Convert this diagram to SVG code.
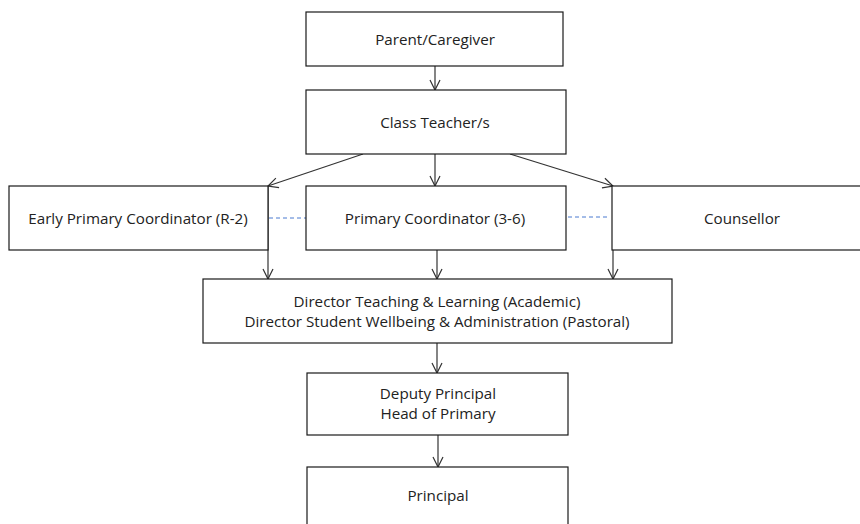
<svg xmlns="http://www.w3.org/2000/svg" width="860" height="524" viewBox="0 0 860 524">
<style>
.box{fill:#fff;stroke:#1a1a1a;stroke-width:1.2}
.t{font-family:"Open Sans","Liberation Sans",Arial,sans-serif;font-size:15.2px;fill:#222;text-anchor:middle}
.c{stroke:#333;stroke-width:1.2;fill:none}
.d{stroke:#4a7bd0;stroke-width:1;stroke-dasharray:4,3;fill:none}
</style>
<defs>
<marker id="ah" viewBox="0 0 12 12" refX="11" refY="6" markerWidth="12" markerHeight="12" markerUnits="userSpaceOnUse" orient="auto">
<path d="M1,1 L11,6 L1,11" fill="none" stroke="#333" stroke-width="1.2"/>
</marker>
</defs>
<rect width="860" height="524" fill="#fff"/>
<g id="connectors">
<line class="c" x1="435" y1="66" x2="435" y2="90" marker-end="url(#ah)"/>
<line class="c" x1="435" y1="154" x2="435" y2="186" marker-end="url(#ah)"/>
<line class="c" x1="363" y1="154" x2="268" y2="186" marker-end="url(#ah)"/>
<line class="c" x1="510" y1="154" x2="613" y2="186" marker-end="url(#ah)"/>
<line class="c" x1="268" y1="186" x2="268" y2="279" marker-end="url(#ah)"/>
<line class="c" x1="437" y1="250" x2="437" y2="279" marker-end="url(#ah)"/>
<line class="c" x1="613" y1="186" x2="613" y2="279" marker-end="url(#ah)"/>
<line class="c" x1="437" y1="343" x2="437" y2="373" marker-end="url(#ah)"/>
<line class="c" x1="438" y1="435" x2="438" y2="467" marker-end="url(#ah)"/>
<line class="d" x1="269" y1="218" x2="306" y2="218"/>
<line class="d" x1="568" y1="217" x2="610" y2="217"/>
</g>
<g id="parent">
<rect class="box" x="306" y="12" width="257" height="54"/>
<text class="t" x="435" y="45">Parent/Caregiver</text>
</g>
<g id="classteacher">
<rect class="box" x="306" y="90" width="260" height="64"/>
<text class="t" x="435" y="128">Class Teacher/s</text>
</g>
<g id="earlyprimary">
<rect class="box" x="9" y="186" width="259" height="64"/>
<text class="t" x="138" y="224">Early Primary Coordinator (R-2)</text>
</g>
<g id="primary">
<rect class="box" x="306" y="186" width="260" height="64"/>
<text class="t" x="435" y="224">Primary Coordinator (3-6)</text>
</g>
<g id="counsellor">
<rect class="box" x="612" y="186" width="262" height="64"/>
<text class="t" x="742" y="224">Counsellor</text>
</g>
<g id="director">
<rect class="box" x="203" y="279" width="469" height="64"/>
<text class="t" x="437" y="307">Director Teaching &amp; Learning (Academic)</text>
<text class="t" x="437" y="327">Director Student Wellbeing &amp; Administration (Pastoral)</text>
</g>
<g id="deputy">
<rect class="box" x="307" y="373" width="261" height="62"/>
<text class="t" x="438" y="399">Deputy Principal</text>
<text class="t" x="438" y="419">Head of Primary</text>
</g>
<g id="principal">
<rect class="box" x="307" y="467" width="261" height="64"/>
<text class="t" x="438" y="501">Principal</text>
</g>
</svg>
